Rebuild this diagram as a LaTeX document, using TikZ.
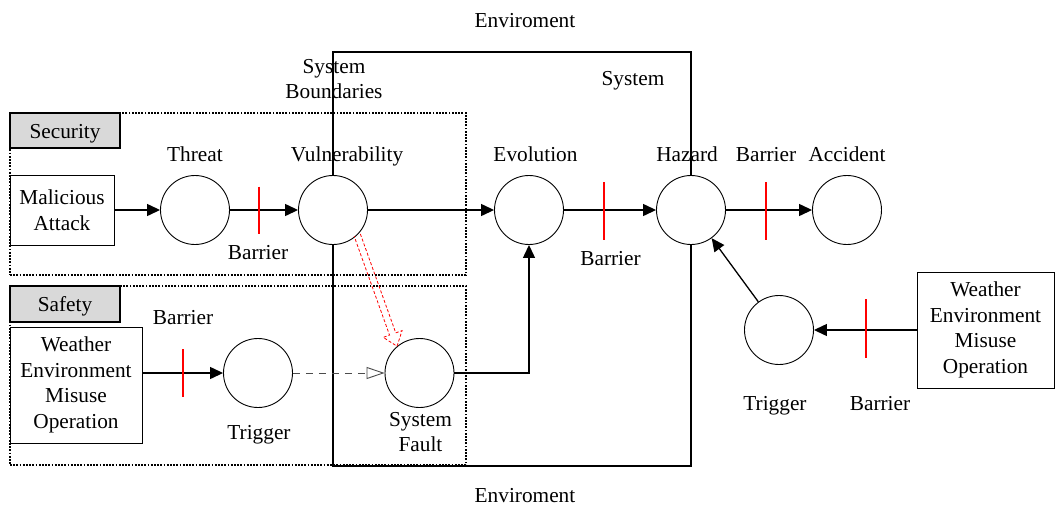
\documentclass[tikz,border=0pt]{standalone}
\usepackage{fontspec}
\setmainfont{Liberation Serif}
\usetikzlibrary{arrows.meta,calc}
\begin{document}
\begin{tikzpicture}[x=1pt,y=-1pt,
  every node/.style={font=\fontsize{21.3}{25.7}\selectfont},
  state/.style={circle,draw,fill=white,line width=0.9pt,minimum size=69pt,inner sep=0pt},
  lbl/.style={inner sep=0pt,text height=14pt,text depth=4.5pt,yshift=-3pt},
  lbltwo/.style={inner sep=0pt,align=center},
  srcbox/.style={rectangle,draw,fill=white,line width=0.9pt,align=center,inner sep=0pt},
  zone/.style={rectangle,draw,dash pattern=on 1.8pt off 1.4pt,line width=1.1pt,inner sep=0pt},
  tag/.style={rectangle,draw,fill=black!15,line width=1.3pt,inner sep=0pt,
    text height=19pt,text depth=3.5pt},
  sysbox/.style={rectangle,draw,line width=1.5pt,inner sep=0pt},
  flow/.style={line width=1.3pt,-{Triangle[length=13pt,width=12pt]}},
  weak/.style={line width=0.9pt,draw=black!70,dash pattern=on 7pt off 6pt,
    -{Triangle[open,length=18pt,width=12pt,fill=white]}},
  barrier/.style={draw=red,line width=1.5pt},
  spread/.style={draw=red,line width=0.8pt,dash pattern=on 3pt off 2pt}
]
\fill[white] (0,0) rectangle (1055,509);
\useasboundingbox (0,0) rectangle (1055,509);

% security and safety zones with their tags
\node[zone,minimum width=456pt,minimum height=162pt] (secz) at (238,194) {};
\node[zone,minimum width=456pt,minimum height=179pt] (safz) at (238,375.5) {};
\node[tag,minimum width=110pt,minimum height=35pt] (sect) at (65,130.5) {Security};
\node[tag,minimum width=110pt,minimum height=36pt] (saft) at (65,304) {Safety};

% system boundary
\node[sysbox,minimum width=358pt,minimum height=414pt] (sys) at (512,259) {};

% sources
\node[srcbox,minimum width=104pt,minimum height=70pt] (mal) at (62,210) {Malicious\\Attack};
\node[srcbox,minimum width=132pt,minimum height=116pt] (wl) at (76,385)
  {Weather\\Environment\\Misuse\\Operation};
\node[srcbox,minimum width=137pt,minimum height=116pt] (wr) at (985.5,330)
  {Weather\\Environment\\Misuse\\Operation};

% states
\node[state] (threat) at (195,210) {};
\node[state] (vuln) at (333,210) {};
\node[state] (evol) at (529,210) {};
\node[state] (haz) at (691,210) {};
\node[state] (acc) at (847,210) {};
\node[state] (trigl) at (258,373) {};
\node[state] (fault) at (419.5,373) {};
\node[state] (trigr) at (779,330) {};

% labels
\node[lbl] (envt) at (525,20) {Enviroment};
\node[lbl] (envb) at (525,495) {Enviroment};
\node[lbl] (sysl) at (633,78) {System};
\node[lbltwo] (bndl) at (334,79) {System\\Boundaries};
\node[lbl] (threatl) at (195,154) {Threat};
\node[lbl] (vulnl) at (347,154) {Vulnerability};
\node[lbl] (evoll) at (535.5,154) {Evolution};
\node[lbl] (hazl) at (687,154) {Hazard};
\node[lbl] (b3l) at (766,154) {Barrier};
\node[lbl] (accl) at (847,154) {Accident};
\node[lbl] (b1l) at (258,252) {Barrier};
\node[lbl] (b2l) at (610.5,258) {Barrier};
\node[lbl] (b5l) at (183,317) {Barrier};
\node[lbl] (trigll) at (259,432) {Trigger};
\node[lbltwo] (faultl) at (420.5,432) {System\\Fault};
\node[lbl] (trigrl) at (775,403) {Trigger};
\node[lbl] (b4l) at (880,403) {Barrier};

% flows
\draw[flow] (mal.east) -- (threat.west);
\draw[flow] (threat.east) -- (vuln.west);
\draw[flow] (vuln.east) -- (evol.west);
\draw[flow] (evol.east) -- (haz.west);
\draw[flow] (haz.east) -- (acc.west);
\draw[flow] (trigl.west -| wl.east) -- (trigl.west);
\draw[weak] (trigl.east) -- (fault.west);
\draw[flow] (fault.east) -| (evol.south);
\draw[flow] (wr.west) -- (trigr.east);
\draw[flow] (trigr) -- (haz);

% barriers
\draw[barrier] (259,186.5) -- (259,233.5);
\draw[barrier] (604,182) -- (604,240);
\draw[barrier] (766,182) -- (766,240);
\draw[barrier] (183,349) -- (183,397);
\draw[barrier] (866,299) -- (866,358);

% hollow red arrow from vulnerability to system fault
\coordinate (rs) at (vuln.-46);
\coordinate (re) at (fault.130);
\coordinate (rh) at ($(re)!13pt!(rs)$);
\draw[spread] ($(rs)!3.3pt!90:(re)$) -- ($(rh)!3.3pt!-90:(rs)$)
  -- ($(rh)!10pt!-90:(rs)$) -- (re) -- ($(rh)!10pt!90:(rs)$)
  -- ($(rh)!3.3pt!90:(rs)$) -- ($(rs)!3.3pt!-90:(re)$);
\end{tikzpicture}
\end{document}
